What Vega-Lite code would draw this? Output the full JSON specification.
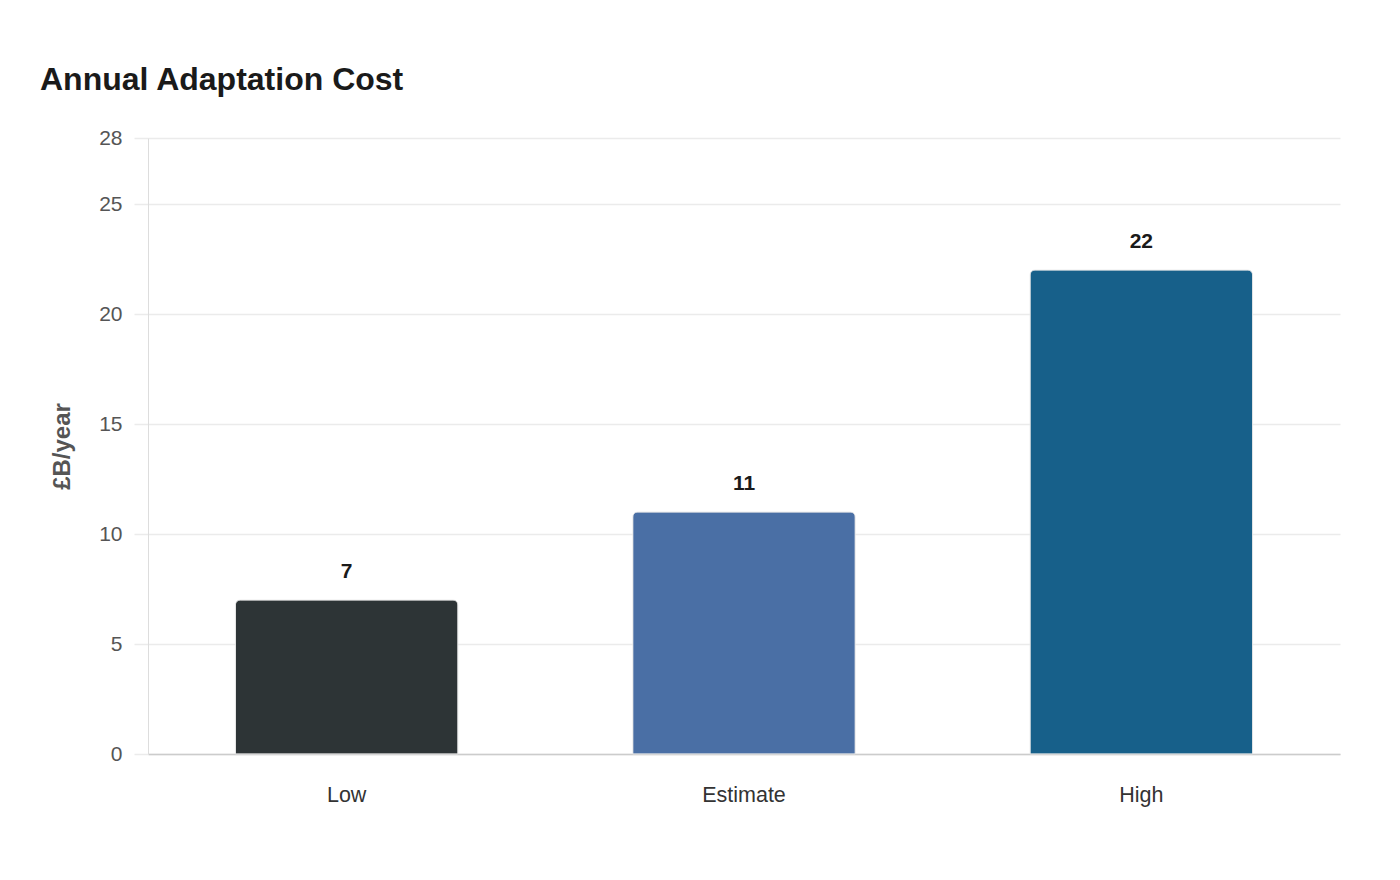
{
  "$schema": "https://vega.github.io/schema/vega-lite/v6.json",
  "autosize": "none",
  "width": 1192,
  "height": 616,
  "padding": {"left": 148, "top": 138, "right": 60, "bottom": 126},
  "background": "white",
  "title": {
    "text": "Annual Adaptation Cost",
    "anchor": "start",
    "frame": "group",
    "dx": -108,
    "offset": 30,
    "fontSize": 32,
    "fontWeight": "bold",
    "font": "Liberation Sans",
    "color": "#1a1a1a"
  },
  "data": {
    "values": [
      {"scenario": "Low", "cost": 7},
      {"scenario": "Estimate", "cost": 11},
      {"scenario": "High", "cost": 22}
    ]
  },
  "encoding": {
    "x": {
      "field": "scenario",
      "type": "nominal",
      "sort": ["Low", "Estimate", "High"],
      "scale": {"paddingInner": 0.44, "paddingOuter": 0.22},
      "axis": {
        "title": null,
        "labelAngle": 0,
        "labelFontSize": 21.5,
        "labelColor": "#333333",
        "labelFont": "Liberation Sans",
        "labelPadding": 30,
        "ticks": false,
        "domainColor": "#cccccc",
        "domainWidth": 1.5,
        "grid": false
      }
    },
    "y": {
      "field": "cost",
      "type": "quantitative",
      "scale": {"domain": [0, 28], "nice": false},
      "axis": {
        "title": "£B/year",
        "titleFont": "Liberation Sans",
        "titleFontSize": 24,
        "titleFontWeight": "bold",
        "titleColor": "#555555",
        "titlePadding": 24,
        "values": [0, 5, 10, 15, 20, 25, 28],
        "labelFontSize": 21,
        "labelColor": "#555555",
        "labelFont": "Liberation Sans",
        "labelPadding": 12,
        "tickSize": 14,
        "tickColor": "#ebebeb",
        "tickWidth": 1.5,
        "gridColor": "#ebebeb",
        "gridWidth": 1.5,
        "domainColor": "#dddddd",
        "domainWidth": 1
      }
    }
  },
  "layer": [
    {
      "mark": {
        "type": "bar",
        "cornerRadiusTopLeft": 5,
        "cornerRadiusTopRight": 5,
        "stroke": "#e8e8e8",
        "strokeWidth": 0.8
      },
      "encoding": {
        "color": {
          "field": "scenario",
          "type": "nominal",
          "scale": {
            "domain": ["Low", "Estimate", "High"],
            "range": ["#2d3436", "#4a6fa5", "#17608a"]
          },
          "legend": null
        }
      }
    },
    {
      "mark": {
        "type": "text",
        "baseline": "bottom",
        "dy": -18,
        "fontSize": 21,
        "fontWeight": "bold",
        "font": "Liberation Sans",
        "color": "#1a1a1a"
      },
      "encoding": {
        "text": {"field": "cost", "type": "quantitative"}
      }
    }
  ],
  "config": {
    "view": {"stroke": null}
  }
}
